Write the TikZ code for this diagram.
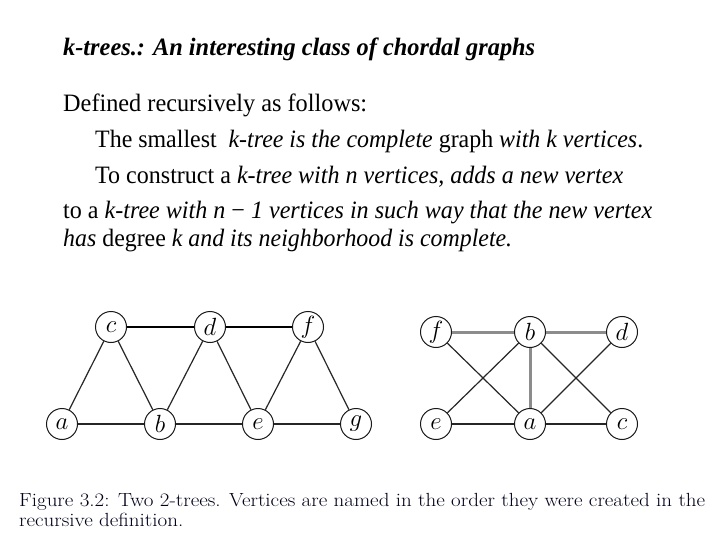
\documentclass[tikz,border=0pt]{standalone}
\usepackage{fontspec}
\usepackage{graphicx}
\newfontfamily\tnr{Liberation Serif}
\tikzset{
  vtx/.style={circle, draw=black!90, line width=1pt, minimum size=31pt, inner sep=0pt, fill=white, font=\fontsize{23}{23}\selectfont},
  thinedge/.style={line width=1.2pt, draw=black!85},
  thickedge/.style={line width=2pt, draw=black},
  grayedge/.style={line width=3pt, draw=black!45},
  txt/.style={anchor=base west, inner sep=0pt, font=\tnr\fontsize{25}{30}\selectfont}
}
\newcommand{\fitw}[2]{\resizebox{#1pt}{\height}{#2}}
\begin{document}
\begin{tikzpicture}[x=1pt,y=-1pt]
\useasboundingbox (0,0) rectangle (720,540);
% text
\node[txt] (t0) at (63,56) {\fitw{472}{\bfseries\itshape k-trees.: An interesting class of chordal graphs}};
\node[txt] (t1) at (63,112) {\fitw{304}{Defined recursively as follows:}};
\node[txt] (t2) at (95,148) {\fitw{548}{The smallest \ \textit{k-tree is the complete} graph \textit{with k vertices}.}};
\node[txt] (t3) at (95,184) {\fitw{528}{To construct a \textit{k-tree with n vertices, adds a new vertex}}};
\node[txt] (t4) at (63,219) {\fitw{589}{to a \textit{k-tree with n \textup{−} 1 vertices in such way that the new vertex}}};
\node[txt] (t5) at (63,247) {\fitw{449}{\textit{has} degree \textit{k and its neighborhood is complete.}}};
% graph 1
\node[vtx] (c1) at (111,327) {$c$};
\node[vtx] (d1) at (210,327) {$d$};
\node[vtx] (f1) at (308,327) {$f$};
\node[vtx] (a1) at (62,424) {$a$};
\node[vtx] (b1) at (160,424) {$b$};
\node[vtx] (e1) at (258,424) {$e$};
\node[vtx] (g1) at (356,424) {$g$};
\draw[thickedge] (c1) -- (d1);
\draw[thickedge] (d1) -- (f1);
\draw[thinedge] (c1) -- (a1);
\draw[thinedge] (c1) -- (b1);
\draw[thinedge] (a1) -- (b1);
\draw[thinedge] (d1) -- (b1);
\draw[thinedge] (d1) -- (e1);
\draw[thinedge] (b1) -- (e1);
\draw[thinedge] (f1) -- (e1);
\draw[thinedge] (f1) -- (g1);
\draw[thinedge] (e1) -- (g1);
% graph 2
\node[vtx] (f2) at (436,332) {$f$};
\node[vtx] (b2) at (530,332) {$b$};
\node[vtx] (d2) at (622,332) {$d$};
\node[vtx] (e2) at (436,424) {$e$};
\node[vtx] (a2) at (530,424) {$a$};
\node[vtx] (c2) at (622,424) {$c$};
\draw[thinedge] (f2) -- (a2);
\draw[thinedge] (b2) -- (e2);
\draw[thinedge] (b2) -- (c2);
\draw[thinedge] (d2) -- (a2);
\draw[thinedge] (e2) -- (a2);
\draw[thinedge] (a2) -- (c2);
\draw[grayedge] (f2) -- (b2);
\draw[grayedge] (b2) -- (d2);
\draw[grayedge] (b2) -- (a2);
% caption
\node[anchor=north west, inner sep=0pt, font=\fontsize{19}{20}\selectfont, text=black!90!blue] (cap) at (19,492)
  {\resizebox{686pt}{\height}{\begin{tabular}{@{}l@{}}Figure 3.2: Two 2-trees. Vertices are named in the order they were created in the\\recursive definition.\end{tabular}}};
\end{tikzpicture}
\end{document}
